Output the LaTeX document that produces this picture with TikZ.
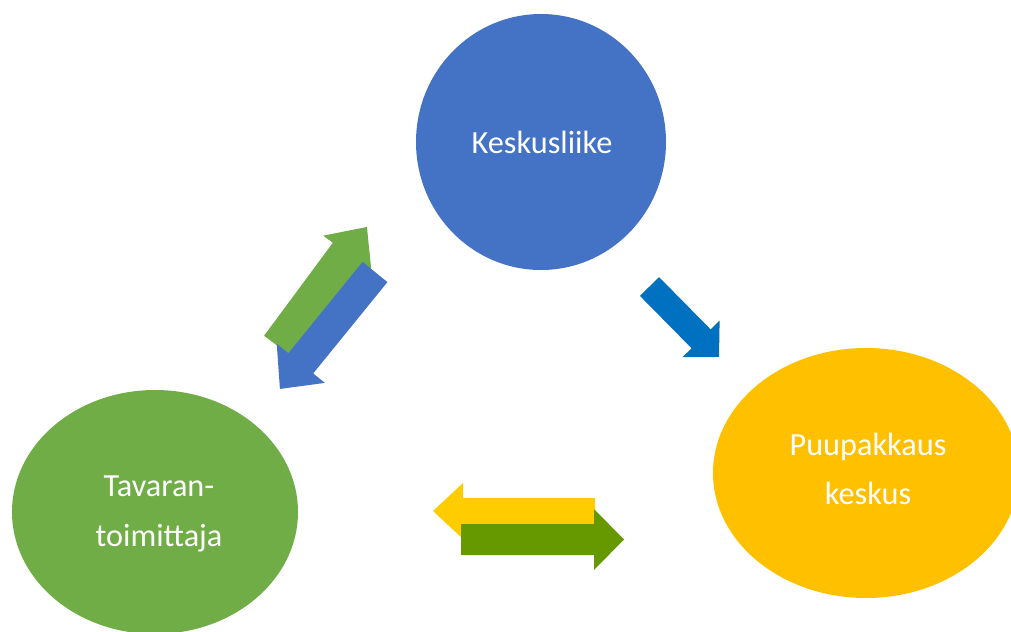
\documentclass[tikz,border=0pt]{standalone}
\usepackage{fontspec}
\setmainfont{Carlito}
\definecolor{cblue}{HTML}{4472C4}
\definecolor{cgreen}{HTML}{70AD47}
\definecolor{cyellow}{HTML}{FFC000}
\definecolor{arrowblue}{HTML}{0070C0}
\definecolor{arrowyellow}{HTML}{FFCC00}
\definecolor{arrowgreen}{HTML}{669900}
% block arrow: colour, tail x, tail y, angle, length, head length, head half-width, shaft half-width
\newcommand{\blockarrow}[8]{%
  \fill[#1, shift={(#2,#3)}, rotate=#4]
    (0,-#8) -- ({#5-#6},-#8) -- ({#5-#6},-#7) -- (#5,0) --
    ({#5-#6},#7) -- ({#5-#6},#8) -- (0,#8) -- cycle;}
\tikzset{
  bubble/.style={ellipse, draw=none, text=white, align=center,
    font=\fontsize{24.2}{37}\selectfont},
}
\usetikzlibrary{shapes.geometric}
\begin{document}
\begin{tikzpicture}[x=0.75pt,y=-0.75pt]
\useasboundingbox (0,0) rectangle (1011,632);
% the three parties
\fill[cblue] (541,142) ellipse [x radius=125, y radius=128];
\fill[cgreen] (155,512) ellipse [x radius=143, y radius=122];
\fill[cyellow] (866,473) ellipse [x radius=153, y radius=125];
\node[bubble] (kesk) at (542,142) {Keskusliike};
\node[bubble] (tav) at (159,514) {Tavaran-\\toimittaja};
\node[bubble] (puu) at (868,469) {Puupakkaus\\keskus};
% flows between them
\blockarrow{cgreen}{278.5}{346.5}{53.5}{148.7}{33}{30}{18}
\blockarrow{cblue}{375}{272}{230.9}{150.7}{33}{31}{16}
\blockarrow{arrowblue}{649.5}{286.5}{-45.4}{99}{25.5}{26}{13.4}
\blockarrow{arrowyellow}{595}{511}{180}{162}{30}{28}{13}
\blockarrow{arrowgreen}{461}{539.5}{0}{163}{30}{30.5}{15.5}
\end{tikzpicture}
\end{document}
